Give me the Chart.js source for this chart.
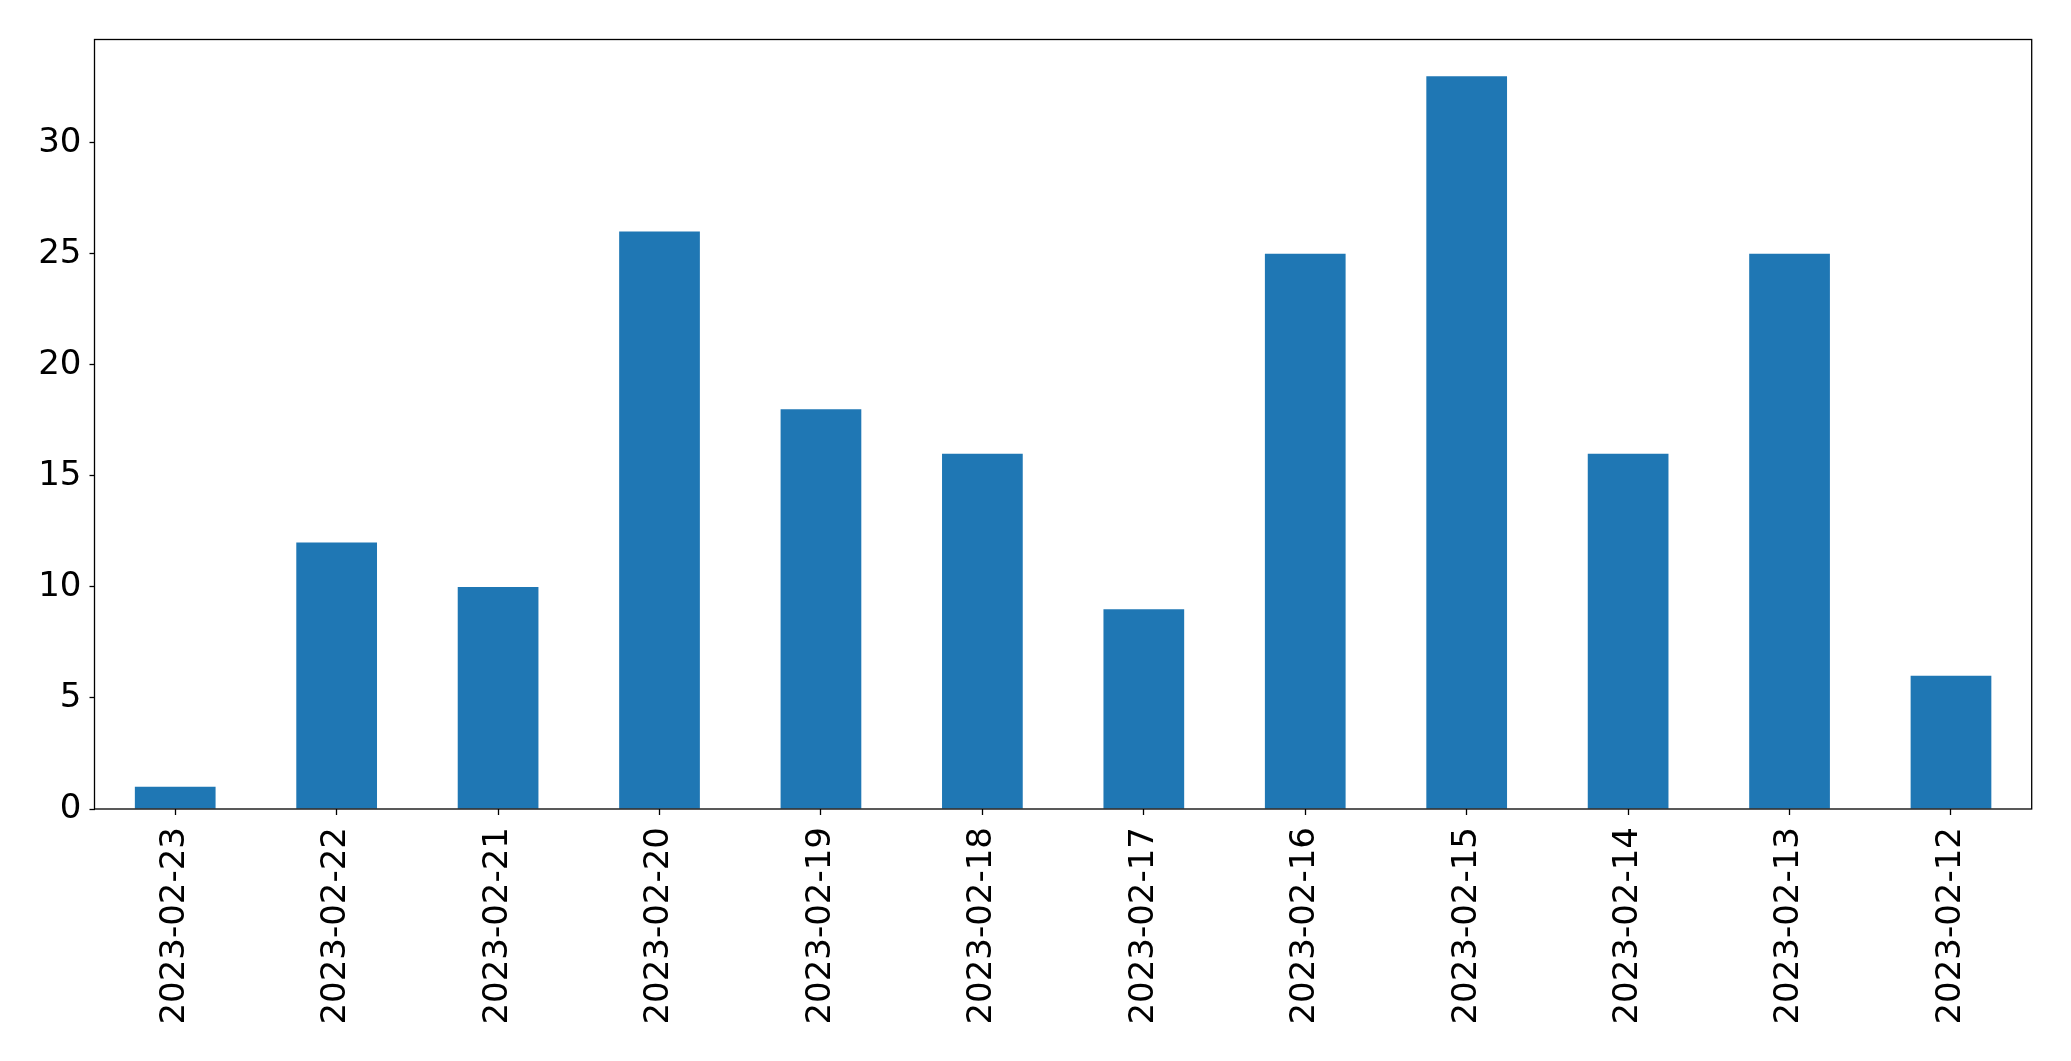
<!DOCTYPE html>
<html>
<head>
<meta charset="utf-8">
<script src="https://cdn.jsdelivr.net/npm/chart.js@4"></script>
<style>
  html, body { margin: 0; padding: 0; background: #ffffff; }
  #wrap { width: 2071px; height: 1061px; }
</style>
</head>
<body>
<div id="wrap"><canvas id="chart" width="2071" height="1061"></canvas></div>
<script>
// data
var dates = ['2023-02-23', '2023-02-22', '2023-02-21', '2023-02-20', '2023-02-19', '2023-02-18',
             '2023-02-17', '2023-02-16', '2023-02-15', '2023-02-14', '2023-02-13', '2023-02-12'];
var counts = [1, 12, 10, 26, 18, 16, 9, 25, 33, 16, 25, 6];
var yTicks = [0, 5, 10, 15, 20, 25, 30];

var FONT = { family: "'DejaVu Sans', sans-serif", size: 34 };

// frame around the plot area, like a matplotlib axes box
var framePlugin = {
    id: 'frame',
    afterDraw: function(chart) {
        var a = chart.chartArea;
        var ctx = chart.ctx;
        ctx.save();
        ctx.strokeStyle = '#000000';
        ctx.lineWidth = 1.3;
        ctx.strokeRect(a.left, a.top, a.right - a.left, a.bottom - a.top);
        ctx.restore();
    }
};

new Chart(document.getElementById('chart').getContext('2d'), {
    type: 'bar',
    data: {
        labels: dates,
        datasets: [{
            data: counts,
            backgroundColor: '#1f77b4',
            borderWidth: 0,
            barPercentage: 0.5,
            categoryPercentage: 1.0
        }]
    },
    options: {
        responsive: false,
        animation: false,
        devicePixelRatio: 1,
        layout: { padding: { top: 39.5, right: 39.3, left: 0, bottom: 0 } },
        plugins: {
            legend: { display: false },
            tooltip: { enabled: false }
        },
        scales: {
            x: {
                offset: true,
                grid: { display: true, offset: false, drawOnChartArea: false, drawTicks: true, tickLength: 6, tickColor: '#000000', tickWidth: 1.3 },
                border: { display: false },
                ticks: {
                    color: '#000000',
                    font: FONT,
                    minRotation: 90,
                    maxRotation: 90,
                    autoSkip: false,
                    padding: 12
                },
                afterFit: function(scale) { scale.height = 252; }
            },
            y: {
                min: 0,
                max: 34.65,
                afterBuildTicks: function(scale) {
                    scale.ticks = yTicks.map(function(v) { return { value: v }; });
                },
                grid: { display: true, drawOnChartArea: false, drawTicks: true, tickLength: 5, tickColor: '#000000', tickWidth: 1.3 },
                border: { display: false },
                ticks: {
                    color: '#000000',
                    font: FONT,
                    padding: 8
                },
                afterFit: function(scale) { scale.width = 94.5; }
            }
        }
    },
    plugins: [framePlugin]
});
</script>
</body>
</html>
